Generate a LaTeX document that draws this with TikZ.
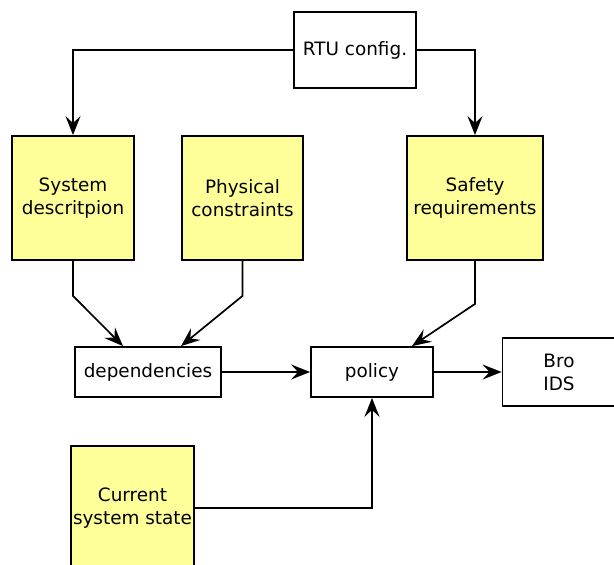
\documentclass[tikz,border=0pt]{standalone}
\usepackage{fontspec}
\setmainfont{DejaVu Sans}
\usetikzlibrary{arrows.meta}
\definecolor{noteyellow}{RGB}{255,255,153}
\tikzset{
  block/.style={draw, line width=1.8pt, align=center, inner sep=2pt, font=\fontsize{18.4}{23}\selectfont},
  inputblock/.style={block, fill=noteyellow},
  flow/.style={-{Stealth[length=19pt, width=15pt, inset=7pt]}, line width=1.7pt},
}
\begin{document}
\begin{tikzpicture}[x=1pt, y=-1pt]
            \useasboundingbox (0,0) rectangle (614,565);

            % Configuration on top
            \node[block, minimum width=122pt, minimum height=76pt] (rtu) at (355,50) {RTU config.};

            % Inputs
            \node[inputblock, minimum width=122pt, minimum height=124pt] (sysdesc) at (73,198) {System\\descritpion};
            \node[inputblock, minimum width=121pt, minimum height=124pt] (phys) at (242.5,198) {Physical\\constraints};
            \node[inputblock, minimum width=136pt, minimum height=124pt] (safety) at (475,198) {Safety\\requirements};
            \node[inputblock, minimum width=121pt, minimum height=124pt] (curstate) at (132.5,508) {Current\\system state};

            % Derived blocks
            \node[block, minimum width=146pt, minimum height=50pt] (deps) at (148,372) {dependencies};
            \node[block, minimum width=122pt, minimum height=50pt] (policy) at (372,372) {policy};
            \node[block, minimum width=113pt, minimum height=68pt] (bro) at (559,372) {Bro\\IDS};

            % Config feeds description and safety
            \draw[flow] (rtu.west) -| (sysdesc.north);
            \draw[flow] (rtu.east) -| (safety.north);

            % Into dependencies
            \draw[flow] (sysdesc.south) -- ++(0,35) -- ([xshift=-25pt]deps.north);
            \draw[flow] (phys.south) -- ++(0,35) -- ([xshift=33pt]deps.north);

            % Into policy
            \draw[flow] (safety.south) -- ++(0,43) -- ([xshift=40pt]policy.north);
            \draw[flow] (deps.east) -- (policy.west);
            \draw[flow] (curstate.east) -| (policy.south);

            % Policy to IDS
            \draw[flow] (policy.east) -- (bro.west);

\end{tikzpicture}
\end{document}
